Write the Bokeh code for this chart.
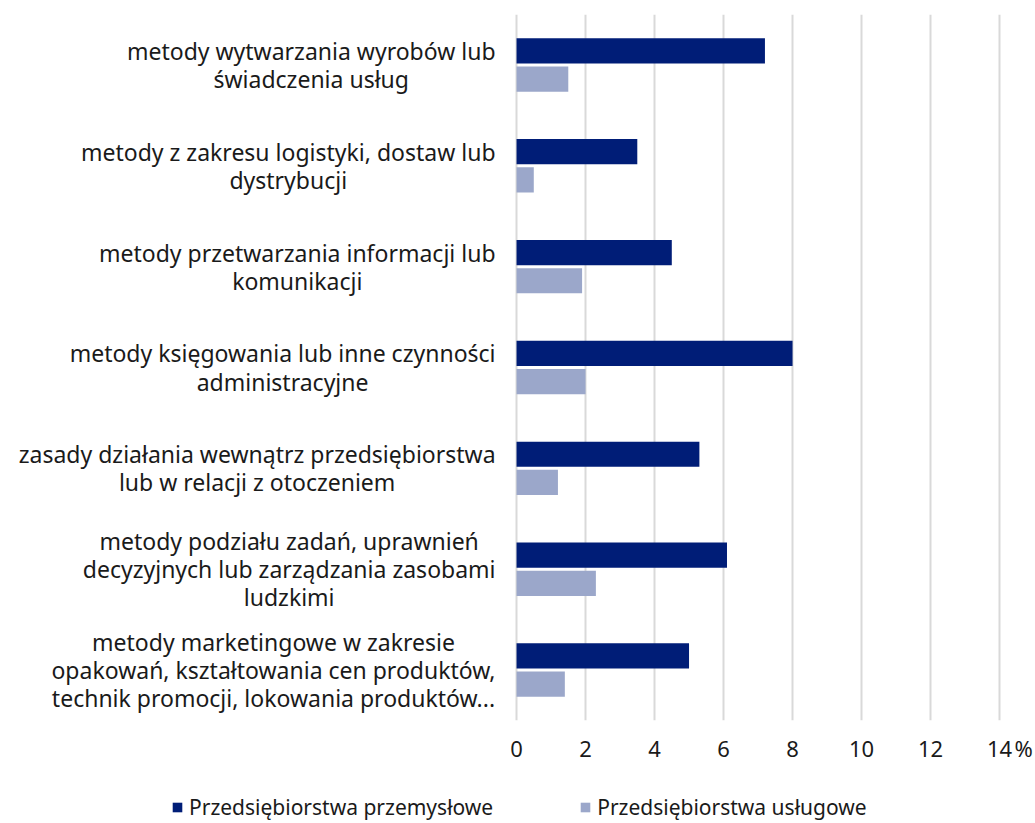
from bokeh.plotting import figure
from bokeh.layouts import column
from bokeh.models import (ColumnDataSource, FactorRange, Range1d, FixedTicker,
                          Legend, LegendItem)
from bokeh.transform import dodge
from bokeh.core.properties import value
from bokeh.embed import file_html
from bokeh.resources import INLINE

# ---- data ----
categories = [
    "metody wytwarzania wyrobów lub\nświadczenia usług",
    "metody z zakresu logistyki, dostaw lub\ndystrybucji",
    "metody przetwarzania informacji lub\nkomunikacji",
    "metody księgowania lub inne czynności\nadministracyjne",
    "zasady działania wewnątrz przedsiębiorstwa\nlub w relacji z otoczeniem",
    "metody podziału zadań, uprawnień\ndecyzyjnych lub zarządzania zasobami\nludzkimi",
    "metody marketingowe w zakresie\nopakowań, kształtowania cen produktów,\ntechnik promocji, lokowania produktów...",
]
przemyslowe = [7.2, 3.5, 4.5, 8.0, 5.3, 6.1, 5.0]
uslugowe = [1.5, 0.5, 1.9, 2.0, 1.2, 2.3, 1.4]
series_names = ["Przedsiębiorstwa przemysłowe", "Przedsiębiorstwa usługowe"]
tick_values = [0, 2, 4, 6, 8, 10, 12, 14]
tick_labels = ["0", "2", "4", "6", "8", "10", "12", "14"]
unit_label = "%"
UNIT_POS = 14.70   # where the unit sign sits, just right of the last tick

DARK = "#001D77"
LIGHT = "#9BA7CA"
FONT = "Noto Sans"
TXT = "#1a1a1a"

src = ColumnDataSource(dict(cat=categories, a=przemyslowe, b=uslugowe,
                            zero=[0] * len(categories)))

p = figure(frame_width=1027, frame_height=706, output_backend="svg",
           toolbar_location=None,
           y_range=FactorRange(*list(reversed(categories))),
           x_range=Range1d(-14.957, 14.81),
           min_border_left=0, min_border_right=7, min_border_top=14,
           min_border_bottom=64)
p.outline_line_color = None
p.background_fill_color = "white"
p.border_fill_color = "white"

ra = p.hbar(y=dodge("cat", 0.14, range=p.y_range), right="a", left=0, height=0.25,
            source=src, fill_color=DARK, line_color=None)
rb = p.hbar(y=dodge("cat", -0.14, range=p.y_range), right="b", left=0, height=0.25,
            source=src, fill_color=LIGHT, line_color=None)

# category labels, block right-anchored next to 0, lines centered
p.text(x="zero", y="cat", text="cat", source=src, x_offset=-21,
       anchor="center_right", text_align="center",
       text_font=value(FONT), text_font_size="23px", text_color=TXT,
       text_line_height=0.88)

p.yaxis.visible = False
p.ygrid.grid_line_color = None

overrides = {v: l for v, l in zip(tick_values, tick_labels)}
overrides[UNIT_POS] = unit_label
p.xaxis.ticker = FixedTicker(ticks=tick_values + [UNIT_POS])
p.xgrid.ticker = FixedTicker(ticks=tick_values)
p.xaxis.major_label_overrides = overrides
p.xaxis.axis_line_color = None
p.xaxis.major_tick_line_color = None
p.xaxis.minor_tick_line_color = None
p.xaxis.major_label_text_font = FONT
p.xaxis.major_label_text_font_size = "22px"
p.xaxis.major_label_text_color = TXT
p.xaxis.major_label_standoff = 6
p.xgrid.grid_line_color = "#d9d9d9"
p.xgrid.grid_line_width = 2

# ---- legend strip (proxy glyphs sit outside the visible range) ----
lf = figure(width=1034, height=39, output_backend="svg", toolbar_location=None,
            x_range=Range1d(0, 1), y_range=Range1d(0, 1),
            min_border=0)
lf.axis.visible = False
lf.grid.visible = False
lf.outline_line_color = None
la = lf.hbar(y=[-5], right=[0], left=[0], height=0.1, fill_color=DARK, line_color=None)
lb = lf.hbar(y=[-5], right=[0], left=[0], height=0.1, fill_color=LIGHT, line_color=None)
legend = Legend(items=[LegendItem(label=series_names[0], renderers=[la]),
                       LegendItem(label=series_names[1], renderers=[lb])],
                orientation="horizontal", location=(171, 2),
                glyph_width=12, glyph_height=12, label_standoff=6, spacing=86,
                label_text_font=FONT, label_text_font_size="21px",
                label_text_color=TXT, border_line_color=None,
                background_fill_alpha=0, padding=0, margin=0)
lf.add_layout(legend, "center")

layout = column(p, lf, spacing=0)
open("out.html", "w").write(file_html(layout, INLINE))
